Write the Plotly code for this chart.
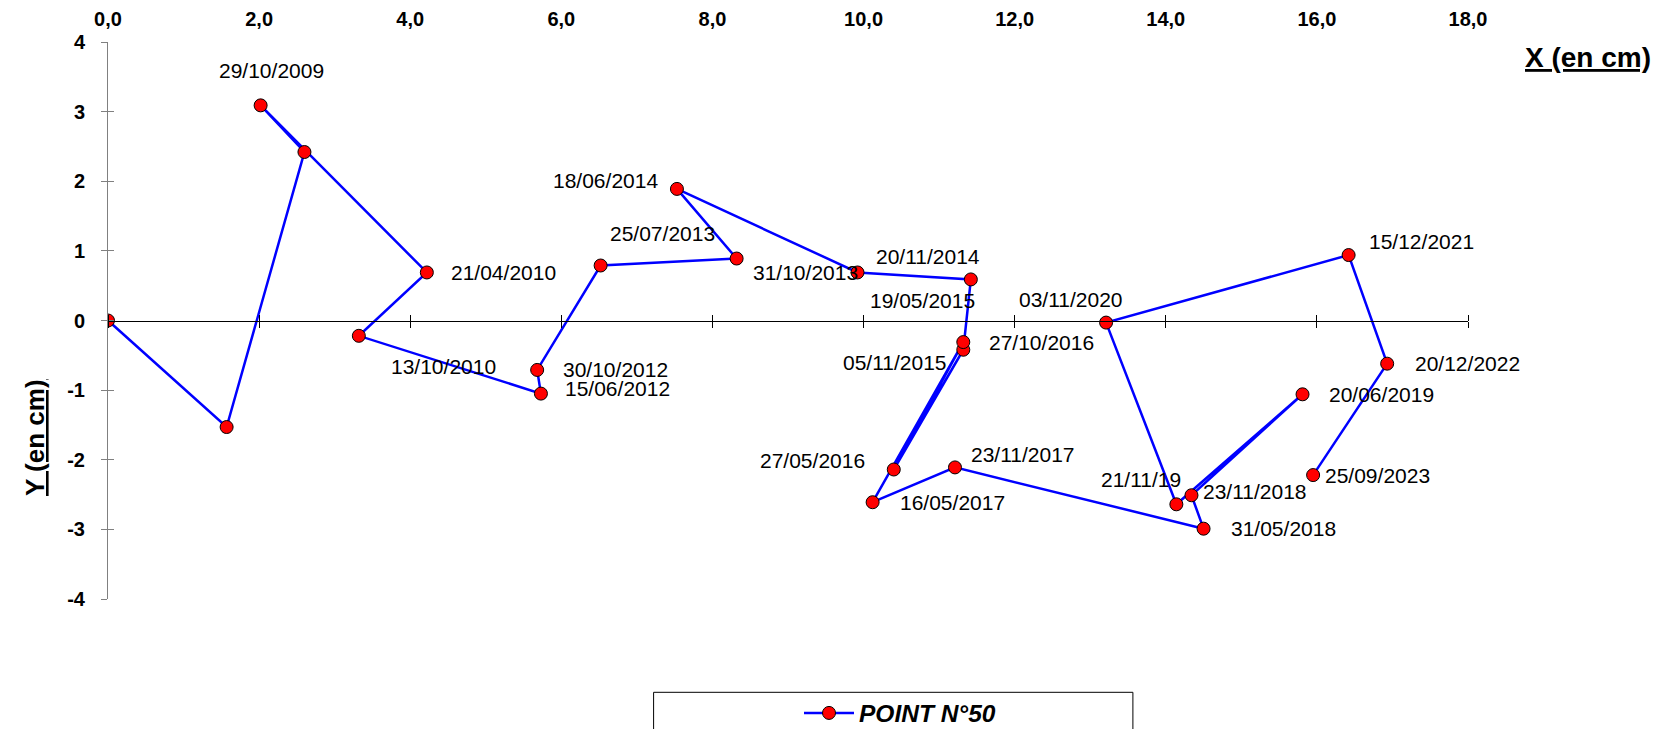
import plotly.graph_objects as go

# ---------------- data ----------------
x_cm = [0.0, 1.57, 2.60, 2.02, 4.22, 3.32, 5.73, 5.68, 6.52, 8.32, 7.53, 9.92, 11.42,
        11.32, 10.40, 11.32, 10.12, 11.21, 14.50, 14.34, 15.81, 14.14, 13.21, 16.42, 16.93, 15.95]
y_cm = [0.0, -1.53, 2.42, 3.09, 0.69, -0.22, -1.05, -0.71, 0.79, 0.89, 1.89, 0.69, 0.59,
        -0.42, -2.14, -0.31, -2.61, -2.11, -2.99, -2.51, -1.06, -2.64, -0.03, 0.94, -0.62, -2.22]
dates = ["", "", "", "29/10/2009", "21/04/2010", "13/10/2010", "15/06/2012", "30/10/2012",
         "25/07/2013", "31/10/2013", "18/06/2014", "20/11/2014", "19/05/2015", "05/11/2015",
         "27/05/2016", "27/10/2016", "16/05/2017", "23/11/2017", "31/05/2018", "23/11/2018",
         "20/06/2019", "21/11/19", "03/11/2020", "15/12/2021", "20/12/2022", "25/09/2023"]
series_name = "POINT N°50"

x_tickvals = [0, 2, 4, 6, 8, 10, 12, 14, 16, 18]
x_ticktext = ["0,0", "2,0", "4,0", "6,0", "8,0", "10,0", "12,0", "14,0", "16,0", "18,0"]
y_tickvals = [-4, -3, -2, -1, 0, 1, 2, 3, 4]
y_ticktext = ["-4", "-3", "-2", "-1", "0", "1", "2", "3", "4"]

# label placement (anchor, dx px, dy px downward) -- style only
label_pos = [None, None, None,
             ("center", 11, -35), ("left", 22, 0), ("left", 30, 31), ("left", 22, -5),
             ("left", 24, 0), ("left", 7, -32), ("left", 14, 14), ("right", -17, -8),
             ("left", 16, -16), ("right", 6, 21), ("right", -14, 13), ("right", -27, -9),
             ("left", 24, 0), ("left", 25, 0), ("left", 14, -13), ("left", 25, 0),
             ("left", 10, -4), ("left", 24, 0), ("right", 7, -25), ("right", 19, -23),
             ("left", 18, -14), ("left", 26, 0), ("left", 10, 0)]

FONT = "Liberation Sans, Arial, sans-serif"
BODY = 8  # default page margin around the figure
W, H = 1643, 721
ML, MR, MT, MB = 100, 183, 34, 130
PW, PH = W - ML - MR, H - MT - MB


def px_x(p):  # page pixel -> paper x
    return (p - BODY - ML) / PW


def px_y(p):  # page pixel -> paper y
    return (H - MB - (p - BODY)) / PH


fig = go.Figure()
fig.add_trace(go.Scatter(
    x=x_cm, y=y_cm, mode="lines+markers", name=series_name,
    line=dict(color="#0000FF", width=2.5),
    marker=dict(symbol="circle", size=13, color="#FF0000", line=dict(color="black", width=1)),
    xaxis="x", yaxis="y"))
# invisible helper traces so the overlay axes are drawn
for ax in ["x2", "x3"]:
    fig.add_trace(go.Scatter(x=x_cm, y=y_cm, mode="none", showlegend=False,
                             hoverinfo="skip", xaxis=ax, yaxis="y"))
fig.add_trace(go.Scatter(x=x_cm, y=y_cm, mode="none", showlegend=False,
                         hoverinfo="skip", xaxis="x", yaxis="y2"))

annotations = []
for xv, yv, txt, pos in zip(x_cm, y_cm, dates, label_pos):
    if not txt or pos is None:
        continue
    anchor, dx, dy = pos
    annotations.append(dict(x=xv, y=yv, xref="x", yref="y", text=txt, showarrow=False,
                            xanchor=anchor, yanchor="middle", xshift=dx, yshift=-dy,
                            font=dict(family=FONT, size=21, color="black")))

annotations.append(dict(x=px_x(1588), y=px_y(58), xref="paper", yref="paper", showarrow=False,
                        text="<b><u>X (en cm)</u></b>", xanchor="center", yanchor="middle",
                        font=dict(family=FONT, size=28, color="black")))
annotations.append(dict(x=px_x(35), y=px_y(438), xref="paper", yref="paper", showarrow=False,
                        text="<b><u>Y (en cm)</u></b>", textangle=-90,
                        xanchor="center", yanchor="middle",
                        font=dict(family=FONT, size=26, color="black")))

fig.update_layout(
    width=W, height=H,
    margin=dict(l=ML, r=MR, t=MT, b=MB, pad=0, autoexpand=False),
    paper_bgcolor="white", plot_bgcolor="white",
    font=dict(family=FONT, color="black"),
    showlegend=True,
    legend=dict(x=px_x(799), xanchor="left", y=px_y(713), yanchor="middle",
                itemwidth=50,
                bgcolor="rgba(0,0,0,0)", borderwidth=0,
                font=dict(family=FONT, size=24.5, color="black", weight="bold", style="italic")),
    xaxis=dict(range=[0, 18], anchor="free", position=0.5, side="bottom",
               showline=True, linecolor="black", linewidth=1,
               ticks="outside", ticklen=6, tickcolor="black", tickwidth=1,
               tickvals=x_tickvals, showticklabels=False,
               showgrid=False, zeroline=False),
    xaxis3=dict(range=[0, 18], overlaying="x", anchor="free", position=0.5, side="top",
                showline=False, ticks="outside", ticklen=6, tickcolor="black", tickwidth=1,
                tickvals=x_tickvals, showticklabels=False, showgrid=False, zeroline=False),
    xaxis2=dict(range=[0, 18], overlaying="x", anchor="y", side="top",
                showline=False, ticks="outside", ticklen=7, tickcolor="rgba(0,0,0,0)",
                tickvals=x_tickvals, ticktext=x_ticktext,
                tickfont=dict(family=FONT, size=20, color="black", weight="bold"),
                showgrid=False, zeroline=False),
    yaxis=dict(range=[-4, 4], showline=True, linecolor="#808080", linewidth=1,
               ticks="outside", ticklen=6, tickcolor="#808080", tickwidth=1,
               tickvals=y_tickvals, ticktext=y_ticktext, ticklabelstandoff=12,
               tickfont=dict(family=FONT, size=20, color="black", weight="bold"),
               showgrid=False, zeroline=False),
    yaxis2=dict(range=[-4, 4], overlaying="y", anchor="x", side="left",
                showline=False, ticks="inside", ticklen=6, tickcolor="#808080", tickwidth=1,
                tickvals=y_tickvals, showticklabels=False, showgrid=False, zeroline=False),
    annotations=annotations,
    shapes=[dict(type="rect", xref="paper", yref="paper",
                 x0=px_x(653.6), x1=px_x(1132.9), y0=px_y(692.3), y1=px_y(760),
                 line=dict(color="black", width=1), fillcolor="rgba(0,0,0,0)")],
)

fig.write_html("out.html")
